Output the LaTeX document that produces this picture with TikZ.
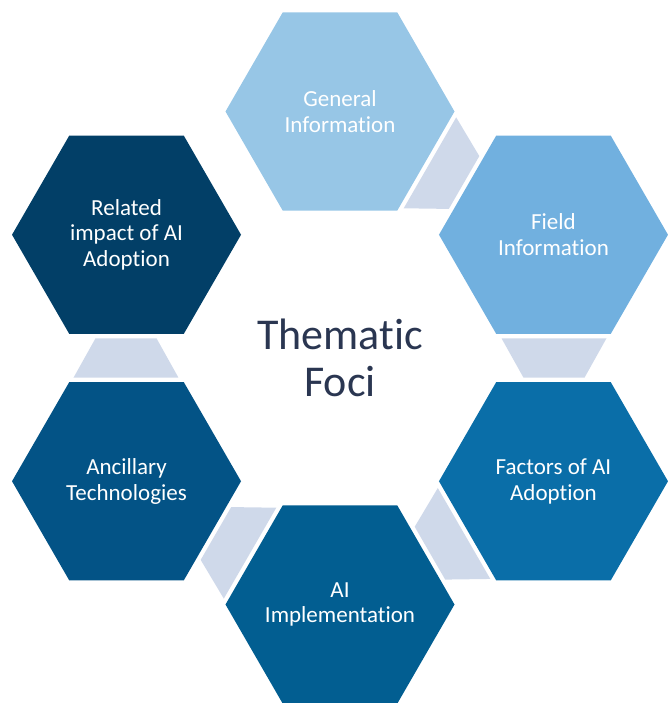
\documentclass[tikz,border=0pt]{standalone}
\usepackage{fontspec}
\setmainfont{Carlito}[Ligatures=NoCommon]
\definecolor{hexA}{HTML}{97C6E6}
\definecolor{hexB}{HTML}{71B0DF}
\definecolor{hexC}{HTML}{0A6EA8}
\definecolor{hexD}{HTML}{025E91}
\definecolor{hexE}{HTML}{035386}
\definecolor{hexF}{HTML}{023F67}
\definecolor{connfill}{HTML}{CFD9EA}
\definecolor{titlecol}{HTML}{2A3651}
\begin{document}
\begin{tikzpicture}[x=1pt,y=1pt,
  hexlabel/.style={text=white, align=center, inner sep=0pt, font=\fontsize{23}{25.5}\selectfont},
  titlelabel/.style={text=titlecol, align=center, inner sep=0pt, font=\fontsize{44}{47.6}\selectfont},
  connshape/.style={fill=connfill}]
\useasboundingbox (-340,-345) rectangle (327,358);
\def\R{114.5}
\coordinate (h1) at (90:246.5);
\coordinate (h2) at (30:246.5);
\coordinate (h3) at (-30:246.5);
\coordinate (h4) at (-90:246.5);
\coordinate (h5) at (-150:246.5);
\coordinate (h6) at (150:246.5);
% connector bands (none between h6 and h1)
\foreach \a in {60,0,-60,-120,180}
  \fill[connshape, rotate=\a] (161.5,19.7) -- (266.5,19.7) -- (244.5,-19.7) -- (183.5,-19.7) -- cycle;
% hexagons
\foreach \c/\col in {h1/hexA,h2/hexB,h3/hexC,h4/hexD,h5/hexE,h6/hexF}
  \fill[\col, shift={(\c)}] (0:\R) -- (60:\R) -- (120:\R) -- (180:\R) -- (240:\R) -- (300:\R) -- cycle;
% labels
\node[hexlabel] (t1) at (h1) {General\\Information};
\node[hexlabel] (t2) at (h2) {Field\\Information};
\node[hexlabel] (t3) at (h3) {Factors of AI\\Adoption};
\node[hexlabel] (t4) at (h4) {AI\\Implementation};
\node[hexlabel] (t5) at (h5) {Ancillary\\Technologies};
\node[hexlabel] (t6) at (h6) {Related\\impact of AI\\Adoption};
\node[titlelabel] (title) at (0,0) {Thematic\\Foci};
\end{tikzpicture}
\end{document}
